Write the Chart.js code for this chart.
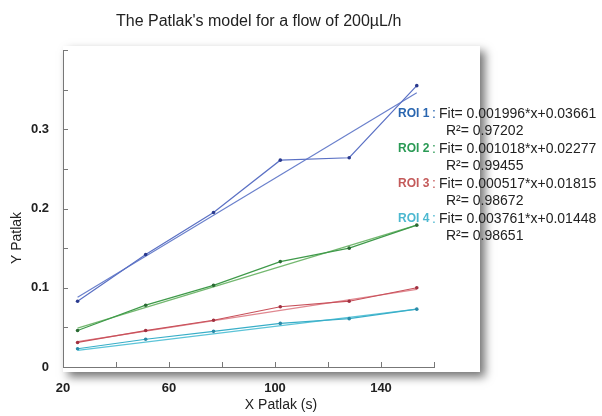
<!DOCTYPE html>
<html>
<head>
<meta charset="utf-8">
<script src="https://cdn.jsdelivr.net/npm/chart.js@4"></script>
<style>
html,body{margin:0;padding:0;background:#fff}
#wrap{width:602px;height:416px;position:relative}
</style>
</head>
<body>
<div id="wrap"><canvas id="c" width="602" height="416"></canvas></div>
<script>
// values
var xPat = [25.5, 51.2, 76.8, 102, 128, 153.5];
var roi1 = [0.083, 0.142, 0.195, 0.261, 0.264, 0.355];
var roi2 = [0.046, 0.078, 0.103, 0.133, 0.150, 0.179];
var roi3 = [0.031, 0.046, 0.059, 0.076, 0.083, 0.100];
var roi4 = [0.023, 0.035, 0.045, 0.055, 0.061, 0.073];
// fitted lines, end points as drawn
var fitX = [25.5, 153.5];
var fit1 = [0.088, 0.346];
var fit2 = [0.049, 0.179];
var fit3 = [0.032, 0.098];
var fit4 = [0.021, 0.073];
var xLabels = [20, 60, 100, 140];
var yLabels = [0, 0.1, 0.2, 0.3];
var roiNames = ['ROI 1', 'ROI 2', 'ROI 3', 'ROI 4'];
var fitTexts = ['Fit= 0.001996*x+0.03661', 'Fit= 0.001018*x+0.02277', 'Fit= 0.000517*x+0.01815', 'Fit= 0.003761*x+0.01448'];
var r2Texts = ['R²= 0.97202', 'R²= 0.99455', 'R²= 0.98672', 'R²= 0.98651'];
var roiCols = ['#2a66b0', '#2a9a55', '#c45a5a', '#4cb8d0'];

var FONT = '"Liberation Sans", Arial, sans-serif';

function pts(xs, ys) {
  return xs.map(function(x, i){ return {x: x, y: ys[i]} });
}
function dataSet(ys, col, pcol) {
  return {data: pts(xPat, ys), borderColor: col, borderWidth: 1.2, pointRadius: 1.8,
    pointBackgroundColor: pcol, pointBorderColor: pcol, pointBorderWidth: 0};
}
function fitSet(ys, col) {
  return {data: pts(fitX, ys), borderColor: col, borderWidth: 1.2, pointRadius: 0};
}

var panel = {
  id: 'panel',
  beforeDraw: function(ch) {
    var c = ch.ctx, a = ch.chartArea;
    c.save();
    c.fillStyle = '#fff';
    c.shadowColor = 'rgba(0,0,0,0.55)';
    c.shadowBlur = 9;
    c.shadowOffsetX = 5;
    c.shadowOffsetY = 5;
    c.fillRect(a.left, a.top - 4, 480 - a.left, a.bottom + 5 - (a.top - 4));
    c.restore();
  },
  afterDraw: function(ch) {
    var c = ch.ctx, xs = ch.scales.x, ys = ch.scales.y;
    c.save();
    // inward tick marks
    c.strokeStyle = '#777';
    c.lineWidth = 1;
    c.beginPath();
    for (var v = 40; v <= 160; v += 20) {
      var px = Math.round(xs.getPixelForValue(v)) + 0.5;
      c.moveTo(px, ys.bottom); c.lineTo(px, ys.bottom - 5);
    }
    for (var k = 1; k <= 8; k++) {
      var py = Math.round(ys.getPixelForValue(k * 0.05)) + 0.5;
      c.moveTo(xs.left, py); c.lineTo(xs.left + 5, py);
    }
    c.stroke();
    // title
    c.fillStyle = '#222';
    c.font = '16px ' + FONT;
    c.textAlign = 'left';
    c.textBaseline = 'middle';
    c.fillText("The Patlak's model for a flow of 200µL/h", 116, 22);
    // axis titles
    c.font = '14px ' + FONT;
    c.textAlign = 'center';
    c.fillText('X Patlak (s)', 281, 405);
    c.save();
    c.translate(17, 238);
    c.rotate(-Math.PI / 2);
    c.fillText('Y Patlak', 0, 0);
    c.restore();
    // fit annotations
    c.textAlign = 'left';
    for (var i = 0; i < 4; i++) {
      var y0 = 114 + i * 35;
      c.font = 'bold 12px ' + FONT;
      c.fillStyle = roiCols[i];
      c.fillText(roiNames[i], 398, y0);
      c.font = '14px ' + FONT;
      c.fillText(':', 432, y0);
      c.fillStyle = '#222';
      c.fillText(fitTexts[i], 439, y0);
      c.fillText(r2Texts[i], 446, y0 + 17.5);
    }
    c.restore();
  }
};

new Chart(document.getElementById('c'), {
  type: 'line',
  data: {
    datasets: [
      dataSet(roi1, '#5a70c4', '#2a3a8e'),
      fitSet(fit1, '#6a80cc'),
      dataSet(roi2, '#3f9a4a', '#2a6a33'),
      fitSet(fit2, '#74b870'),
      dataSet(roi3, '#c8505a', '#a03040'),
      fitSet(fit3, '#e08890'),
      dataSet(roi4, '#38aec8', '#2a8aa8'),
      fitSet(fit4, '#5cc4d8')
    ]
  },
  options: {
    responsive: false,
    animation: false,
    layout: {padding: {top: 50, right: 168, left: 0, bottom: 0}},
    plugins: {legend: {display: false}, tooltip: {enabled: false}},
    scales: {
      x: {
        type: 'linear', min: 20, max: 160,
        afterFit: function(s){ s.height = 49; },
        grid: {display: false},
        border: {display: true, color: '#777', width: 1},
        ticks: {
          stepSize: 20, padding: 6, color: '#222', maxRotation: 0,
          font: {family: FONT, size: 13, weight: 'bold'},
          callback: function(v){ return xLabels.indexOf(v) >= 0 ? String(v) : ''; }
        }
      },
      y: {
        type: 'linear', min: 0, max: 0.4,
        afterFit: function(s){ s.width = 63; },
        grid: {display: false},
        border: {display: true, color: '#777', width: 1},
        ticks: {
          stepSize: 0.05, padding: 6, color: '#222',
          font: {family: FONT, size: 13, weight: 'bold'},
          callback: function(v){
            var r = Math.round(v * 100) / 100;
            return yLabels.indexOf(r) >= 0 ? String(r) : '';
          }
        }
      }
    }
  },
  plugins: [panel]
});
</script>
</body>
</html>
